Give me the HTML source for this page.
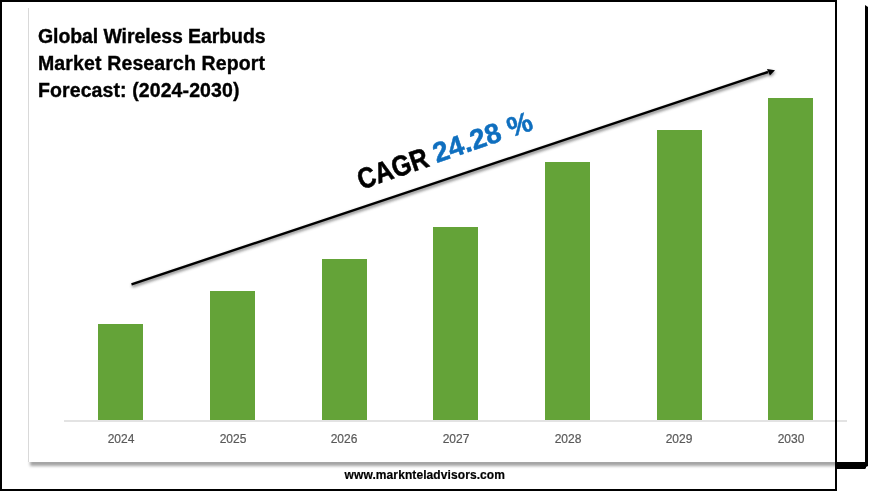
<!DOCTYPE html>
<html><head><meta charset="utf-8">
<style>
html,body{margin:0;padding:0;background:#fff;}
body{width:870px;height:491px;position:relative;overflow:hidden;font-family:"Liberation Sans",sans-serif;}
.abs{position:absolute;}
.bar{position:absolute;background:#64a338;width:45px;}
.yr{position:absolute;top:432px;width:60px;text-align:center;font-size:12px;color:#595959;line-height:14px;-webkit-text-stroke:0.2px #595959;}
.t{position:absolute;left:38px;font-weight:bold;font-size:19.5px;line-height:22px;color:#000;white-space:nowrap;-webkit-text-stroke:0.35px #000;}
</style></head><body><div style="position:absolute;left:0;top:0;width:870px;height:491px;will-change:transform">
<!-- outer frame -->
<div class="abs" style="left:0;top:0;width:837px;height:2px;background:#000"></div>
<div class="abs" style="left:0;top:0;width:2px;height:491px;background:#000"></div>
<div class="abs" style="left:0;top:489px;width:837px;height:2px;background:#000"></div>

<!-- panel -->
<div class="abs" style="left:30px;top:460px;width:810px;height:6px;background:#a3a3a3;filter:blur(1.5px)"></div>
<div class="abs" style="left:28px;top:5px;width:837px;height:457px;background:#fff"></div>
<div class="abs" style="left:28px;top:8px;width:1px;height:454px;background:#d9d9d9"></div>

<!-- axis -->
<div class="abs" style="left:64px;top:420px;width:783px;height:2px;background:#e3e3e3"></div>

<!-- bars -->
<div class="bar" style="left:98px;top:324px;height:96px"></div>
<div class="bar" style="left:210px;top:291px;height:129px"></div>
<div class="bar" style="left:322px;top:259px;height:161px"></div>
<div class="bar" style="left:433px;top:227px;height:193px"></div>
<div class="bar" style="left:545px;top:162px;height:258px"></div>
<div class="bar" style="left:657px;top:130px;height:290px"></div>
<div class="bar" style="left:768px;top:97.5px;height:322.5px"></div>

<div class="yr" style="left:91px">2024</div>
<div class="yr" style="left:203px">2025</div>
<div class="yr" style="left:314px">2026</div>
<div class="yr" style="left:426px">2027</div>
<div class="yr" style="left:538px">2028</div>
<div class="yr" style="left:649px">2029</div>
<div class="yr" style="left:761px">2030</div>

<!-- title -->
<div class="t" style="top:25px;letter-spacing:-0.09px">Global Wireless Earbuds</div>
<div class="t" style="top:52px;letter-spacing:0.13px">Market Research Report</div>
<div class="t" style="top:78.8px;letter-spacing:0.1px">Forecast: (2024-2030)</div>

<!-- arrow -->
<svg class="abs" style="left:0;top:0" width="870" height="491">
<defs><filter id="bl" x="-5%" y="-50%" width="110%" height="200%"><feGaussianBlur stdDeviation="1.6"/></filter></defs>
<g filter="url(#bl)" opacity="0.65">
<line x1="132" y1="286" x2="769" y2="73.7" stroke="#444" stroke-width="3"/>
<polygon points="775.5,71.9 767.5,70.6 770.4,77.1" fill="#444"/>
</g>
<line x1="131.5" y1="284.3" x2="768" y2="72" stroke="#000" stroke-width="2.4"/>
<polygon points="775,70.2 767,68.9 769.9,75.4" fill="#000"/>
</svg>

<!-- CAGR -->
<div class="abs" style="left:360px;top:189px;width:0;height:0;transform:rotate(-18deg);transform-origin:0 0">
<div class="abs" style="left:0.5px;top:-24.3px;white-space:nowrap;font-weight:bold;font-size:28.7px;line-height:30px;color:#000;-webkit-text-stroke:0.6px #000;transform:rotate(-0.8deg) scaleX(0.866);transform-origin:0 25px">CAGR</div>
<div class="abs" style="left:80.7px;top:-26px;white-space:nowrap;font-weight:bold;font-size:28px;line-height:32px;letter-spacing:0.1px;color:#0f6fbf;-webkit-text-stroke:0.5px #0f6fbf;transform:rotate(-1deg);transform-origin:0 25.7px">24.28 %</div>
</div>

<!-- right frame -->
<div class="abs" style="left:835px;top:0;width:2px;height:491px;background:#000"></div>
<div class="abs" style="left:865px;top:5px;width:3px;height:462px;background:#000;clip-path:polygon(0 0,100% 2px,100% calc(100% - 1px),1px 100%,0 100%)"></div>
<div class="abs" style="left:836px;top:462px;width:30px;height:7px;background:#000;clip-path:polygon(0 0,100% 0,100% calc(100% - 1px),calc(100% - 1px) 100%,0 100%)"></div>

<!-- footer -->
<div class="abs" style="left:344.6px;top:468px;letter-spacing:0.09px;font-weight:bold;font-size:12px;line-height:14px;color:#000;-webkit-text-stroke:0.2px #000;white-space:nowrap">www.marknteladvisors.com</div>
</div></body></html>
